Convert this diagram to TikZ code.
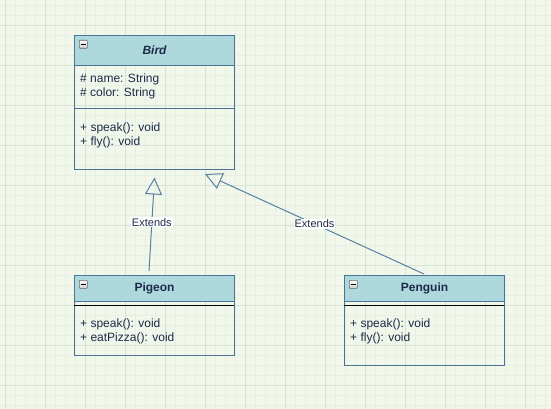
\documentclass[tikz,border=0pt]{standalone}
\usepackage{fontspec}
\setmainfont{Liberation Sans}
\usetikzlibrary{arrows.meta,calc}
\definecolor{bgc}{RGB}{241,248,235}
\definecolor{minorc}{RGB}{231,239,227}
\definecolor{majorc}{RGB}{216,225,213}
\definecolor{headc}{RGB}{173,216,220}
\definecolor{borderc}{RGB}{74,115,150}
\definecolor{edgec}{RGB}{88,128,160}
\definecolor{txtc}{RGB}{30,42,72}
\tikzset{
  classbox/.style={draw=borderc, line width=1pt, anchor=north west, inner sep=0pt, minimum width=160},
  headbox/.style={draw=borderc, fill=headc, line width=1pt, anchor=north west, inner sep=0pt, minimum width=160, font=\fontsize{12}{14}\selectfont\bfseries, text=txtc},
  member/.style={anchor=north west, inner sep=0pt, align=left, font=\fontsize{12}{14}\selectfont, text=txtc},
  minusicon/.style={draw=gray!80!black, line width=0.6pt, top color=white, bottom color=gray!40, minimum size=8, inner sep=0pt, anchor=north west, rounded corners=0.8pt},
  ext/.style={draw=edgec, line width=1pt, -{Triangle[open, length=17pt, width=17pt, line width=1pt]}},
  extlabel/.style={fill=white, inner sep=1pt, font=\fontsize{11}{12}\selectfont, text=txtc}
}
\begin{document}
\begin{tikzpicture}[x=1pt,y=-1pt]
\useasboundingbox (0,0) rectangle (551,409);
\fill[bgc] (0,0) rectangle (551,409);
\foreach \x in {5,15,...,550} \draw[minorc, line width=0.6pt] (\x,0) -- (\x,409);
\foreach \y in {5,15,...,405} \draw[minorc, line width=0.6pt] (0,\y) -- (551,\y);
\foreach \x in {5,45,...,550} \draw[majorc, line width=0.8pt] (\x,0) -- (\x,409);
\foreach \y in {25,65,...,405} \draw[majorc, line width=0.8pt] (0,\y) -- (551,\y);

% Bird
\node[classbox, minimum height=134] (bird) at (74,35) {};
\node[headbox, minimum height=30] (birdhead) at (74,35) {\itshape Bird};
\draw[borderc, line width=1pt] (74,109) -- (234,109);
\node[member] (birdattr) at (80,74) {\# name: String\\\# color: String};
\node[member] (birdmeth) at (80,123) {+ speak(): void\\+ fly(): void};
\node[minusicon] (birdmin) at (79,40) {};
\draw[black, line width=0.9pt] ($(birdmin.west)+(2,0)$) -- ($(birdmin.east)+(-2,0)$);

% Pigeon
\node[classbox, minimum height=80] (pigeon) at (74,275) {};
\node[headbox, minimum height=26] (pighead) at (74,275) {Pigeon};
\draw[black, line width=1pt] (74,305) -- (234,305);
\node[member] (pigmeth) at (80,319) {+ speak(): void\\+ eatPizza(): void};
\node[minusicon] (pigmin) at (79,280) {};
\draw[black, line width=0.9pt] ($(pigmin.west)+(2,0)$) -- ($(pigmin.east)+(-2,0)$);

% Penguin
\node[classbox, minimum height=90] (penguin) at (344,275) {};
\node[headbox, minimum height=26] (penhead) at (344,275) {Penguin};
\draw[black, line width=1pt] (344,305) -- (504,305);
\node[member] (penmeth) at (350,319) {+ speak(): void\\+ fly(): void};
\node[minusicon] (penmin) at (349,280) {};
\draw[black, line width=0.9pt] ($(penmin.west)+(2,0)$) -- ($(penmin.east)+(-2,0)$);

% Edges
\coordinate (pigstart) at ($(pigeon.north)+(-5.5,-4)$);
\coordinate (pigtip) at ($(bird.south)+(0,7.5)$);
\coordinate (penstart) at ($(penguin.north)+(-0.5,-1)$);
\coordinate (pentip) at ($(bird.south)+(50.5,4)$);
\draw[ext] (pigstart) -- node[extlabel, pos=0.52] (lab1) {Extends} (pigtip);
\draw[ext] (penstart) -- node[extlabel, pos=0.5] (lab2) {Extends} (pentip);
\end{tikzpicture}
\end{document}
